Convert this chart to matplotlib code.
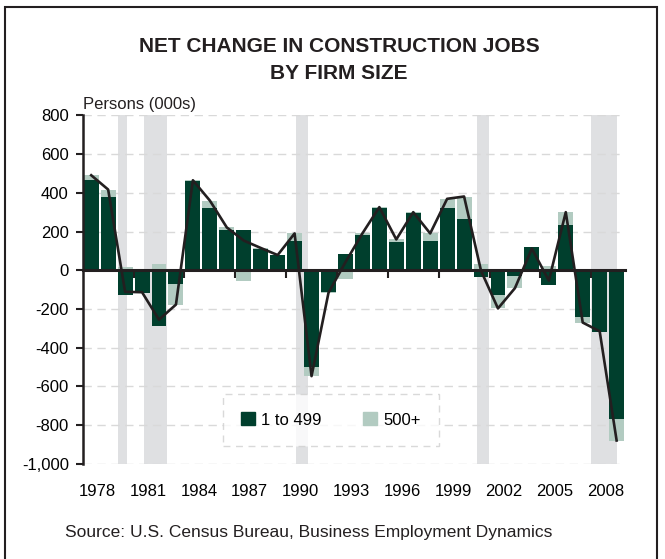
import matplotlib
matplotlib.use("Agg")
import matplotlib.pyplot as plt
from matplotlib.patches import Rectangle, Patch
import numpy as np

plt.rcParams["font.family"] = ["Liberation Sans", "DejaVu Sans"]

years = list(range(1978, 2010))
# net change, thousands of persons
small_firms = [465, 378, -126, -119, -290, -74, 460, 324, 210, 210, 112, 76,
               153, -502, -114, 86, 181, 324, 148, 297, 153, 324, 265, -36,
               -130, -31, 122, -78, 236, -240, -321, -771]
large_firms = [26, 39, 14, 5, 34, -104, 5, 36, 11, -57, 3, 2,
               37, -46, -3, -45, 9, 2, 11, 3, 37, 45, 116, 33,
               -68, -62, -10, 24, 64, -31, 5, -110]
# recession shading, in year-axis units
recessions = [(1979.6, 1980.1), (1981.1, 1982.45), (1990.08, 1990.77),
              (2000.78, 2001.47), (2007.49, 2009.0)]
label_years = list(range(1978, 2009, 3))
yticks = list(range(-1000, 801, 200))

dark = "#003f2d"
light = "#b2cbc1"
ink = "#231f20"

x = np.array(years)
d = np.array(small_firms)
l = np.array(large_firms)
total = d + l
light_bottom = np.where(np.sign(l) == np.sign(d), d, 0)

fig = plt.figure(figsize=(6.65, 5.59), dpi=100)
ax = fig.add_axes([0.1244, 0.1708, 0.8156, 0.6226])

for a, b in recessions:
    ax.axvspan(a, b, color="#dfe0e2", lw=0, zorder=0)

for yv in yticks:
    if yv != 0:
        ax.axhline(yv, color="#d9d9d9", lw=1, dashes=(6, 4), zorder=0.5)

ax.bar(x, d, width=0.88, color=dark, zorder=2, label="1 to 499")
ax.bar(x, l, bottom=light_bottom, width=0.88, color=light, zorder=2, label="500+")
ax.plot(x, total, color=ink, lw=1.9, zorder=3)

ax.set_xlim(1977.5, 2009.5)
ax.set_ylim(-1000, 800)
ax.set_yticks(yticks)
ax.set_yticklabels([f"{v:,}" for v in yticks], fontsize=12)
ax.tick_params(axis="y", direction="out", length=5, width=1.5, color=ink, pad=5)

for s in ["top", "right"]:
    ax.spines[s].set_visible(False)
ax.spines["left"].set_color(ink)
ax.spines["left"].set_linewidth(1.8)
ax.spines["bottom"].set_position(("data", 0))
ax.spines["bottom"].set_color(ink)
ax.spines["bottom"].set_linewidth(2.2)
ax.spines["bottom"].set_zorder(4)
ax.set_xticks(np.arange(1980.5, 2009, 3))
ax.set_xticklabels([])
ax.tick_params(axis="x", direction="out", length=6, width=1.5, color=ink)

sec = ax.secondary_xaxis(0)
sec.set_xticks([yr + 0.35 for yr in label_years])
sec.set_xticklabels([str(yr) for yr in label_years], fontsize=12)
sec.tick_params(length=0, pad=15)
sec.spines["bottom"].set_visible(False)

leg = ax.legend(handles=[Patch(color=dark, label="1 to 499"), Patch(color=light, label="500+")],
                loc="center", bbox_to_anchor=(0.458, 0.125), ncol=2, fontsize=12,
                frameon=True, fancybox=False, handlelength=0.8, handleheight=0.8,
                handletextpad=0.4, columnspacing=2.5, borderpad=1.1)
frame = leg.get_frame()
frame.set_edgecolor("#d0d0d0")
frame.set_linestyle((0, (5, 4)))
frame.set_linewidth(1)
frame.set_facecolor("white")
leg.set_zorder(5)

fig.text(0.51, 1 - 60 / 559, "NET CHANGE IN CONSTRUCTION JOBS\nBY FIRM SIZE",
         ha="center", va="center", fontsize=15, fontweight="bold", color=ink, linespacing=1.5)
fig.text(83 / 665, 1 - 104 / 559, "Persons (000s)", ha="left", va="center", fontsize=12, color=ink)
fig.text(65 / 665, 1 - 532 / 559, "Source: U.S. Census Bureau, Business Employment Dynamics",
         ha="left", va="center", fontsize=12.5, color=ink)

fig.add_artist(Rectangle((5 / 665, -0.1), 652 / 665, 1.1 - 7 / 559, transform=fig.transFigure,
                         fill=False, edgecolor=ink, lw=1.5))

fig.savefig("out.png", dpi=100)
